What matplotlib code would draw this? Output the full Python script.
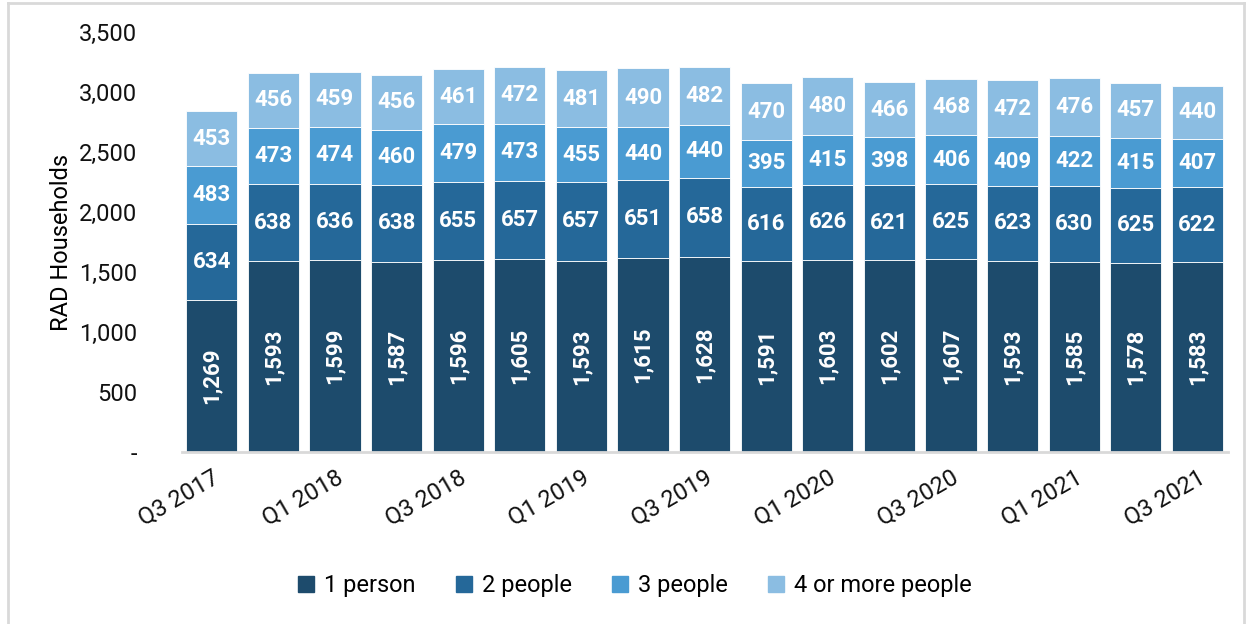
import matplotlib.pyplot as plt
from matplotlib.lines import Line2D

# --- Data ---
quarters = ["Q3 2017", "Q4 2017", "Q1 2018", "Q2 2018", "Q3 2018", "Q4 2018",
            "Q1 2019", "Q2 2019", "Q3 2019", "Q4 2019", "Q1 2020", "Q2 2020",
            "Q3 2020", "Q4 2020", "Q1 2021", "Q2 2021", "Q3 2021"]
one_person = [1269, 1593, 1599, 1587, 1596, 1605, 1593, 1615, 1628,
              1591, 1603, 1602, 1607, 1593, 1585, 1578, 1583]
two_people = [634, 638, 636, 638, 655, 657, 657, 651, 658,
              616, 626, 621, 625, 623, 630, 625, 622]
three_people = [483, 473, 474, 460, 479, 473, 455, 440, 440,
                395, 415, 398, 406, 409, 422, 415, 407]
four_plus = [453, 456, 459, 456, 461, 472, 481, 490, 482,
             470, 480, 466, 468, 472, 476, 457, 440]

series = [("1 person", one_person, "#1d4b6c"),
          ("2 people", two_people, "#256899"),
          ("3 people", three_people, "#4a9bd2"),
          ("4 or more people", four_plus, "#8bbde2")]

plt.rcParams["font.family"] = ["Roboto", "DejaVu Sans"]

fig = plt.figure(figsize=(12.52, 6.24), dpi=100)
ax = fig.add_axes([0.145, 0.2756, 0.836, 0.6731])

x = list(range(len(quarters)))
bottom = [0] * len(quarters)
handles = []
for i, (name, vals, color) in enumerate(series):
    ax.bar(x, vals, bottom=bottom, width=0.83, color=color,
           edgecolor="white", linewidth=0.6)
    for xi, b, v in zip(x, bottom, vals):
        ax.text(xi, b + v / 2, f"{v:,}", ha="center", va="center",
                color="white", fontsize=16, fontweight="bold",
                rotation=90 if i == 0 else 0)
    bottom = [b + v for b, v in zip(bottom, vals)]
    handles.append(Line2D([], [], marker="s", linestyle="", markersize=12,
                          markerfacecolor=color, markeredgecolor=color,
                          label=name))

ax.set_xlim(-0.49, 16.5)
ax.set_ylim(0, 3500)
ax.set_yticks(range(0, 3501, 500))
ax.set_yticklabels(["-"] + [f"{v:,}" for v in range(500, 3501, 500)])
ax.set_xticks(x[::2])
ax.set_xticklabels(quarters[::2], rotation=30, ha="right",
                   rotation_mode="anchor")
ax.tick_params(axis="both", length=0, labelsize=17, colors="#111111")
ax.tick_params(axis="y", pad=32)
ax.tick_params(axis="x", pad=10)
for side in ["top", "right", "left"]:
    ax.spines[side].set_visible(False)
ax.spines["bottom"].set_color("#d9d9d9")
ax.spines["bottom"].set_linewidth(2)
ax.set_ylabel("RAD Households", fontsize=17, labelpad=4)

fig.legend(handles=handles, loc="center", bbox_to_anchor=(0.506, 0.062),
           ncol=4, frameon=False, fontsize=17, handlelength=0.9,
           handletextpad=0.3, columnspacing=1.6)

# thin frame around the figure
for xs, ys in [([0.006, 0.006], [0, 0.995]), ([0.006, 0.994], [0.995, 0.995]),
               ([0.994, 0.994], [0, 0.995])]:
    fig.add_artist(Line2D(xs, ys, color="#d9d9d9", linewidth=2))

fig.savefig("out.png", dpi=100)
